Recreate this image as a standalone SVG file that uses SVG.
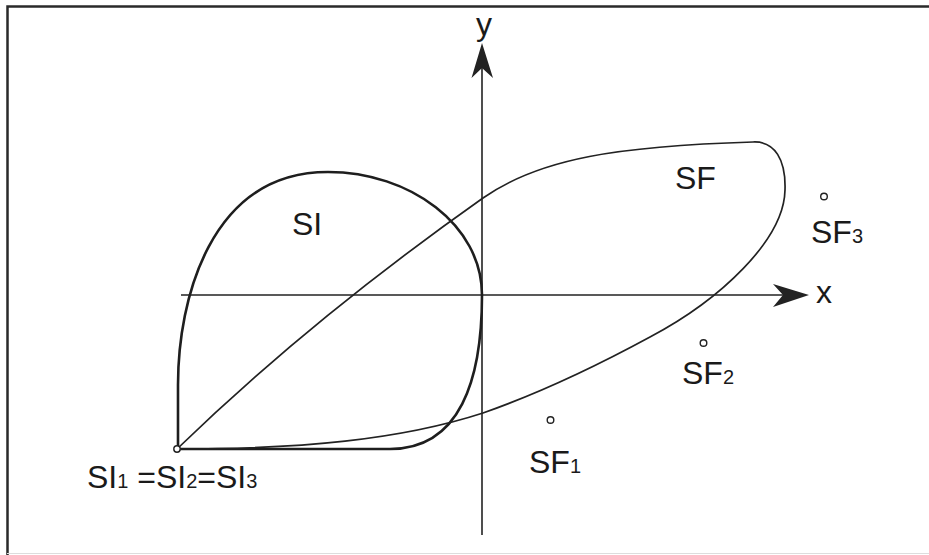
<svg xmlns="http://www.w3.org/2000/svg" width="929" height="555" viewBox="0 0 929 555">
<style>
.frame{stroke:#2a2a2a;stroke-width:2.5;fill:none}
.axis{stroke:#222;stroke-width:1.6;fill:none}
.si{stroke:#1e1e1e;stroke-width:2.6;fill:none;stroke-linejoin:round}
.sf{stroke:#222;stroke-width:1.7;fill:none;stroke-linejoin:round}
.pt{stroke:#222;stroke-width:1.4;fill:#fff}
.head{fill:#222}
text{font-family:"Liberation Sans",Arial,Helvetica,sans-serif;font-size:32px;fill:#1a1a1a}
.sub{font-size:20px}
</style>
<rect width="929" height="555" fill="#fff"/>
<g id="frame">
<path class="frame" d="M7.5,555 V6.5 H929"/>
<path d="M7,553.5 H929" stroke="#ddd" stroke-width="1.2"/>
</g>
<g id="connectors">
<g id="x-axis">
<path class="axis" d="M181,295 H784"/>
<path class="head" d="M809,295 L773,284 L783,295 L773,307 Z"/>
</g>
<g id="y-axis">
<path class="axis" d="M482,535 V66"/>
<path class="head" d="M482,43 L471.5,78 L482,68 L493,78 Z"/>
</g>
</g>
<g id="SI">
<path class="si" d="M178,449 L178,385 C178,300 210,172 328,172 C410,172 482,225 482,295 C482,380 460,449 390,449 Z"/>
<text x="292" y="235">SI</text>
</g>
<g id="SF">
<path class="sf" d="M177,449 Q310,320 483,198 C540,158 620,146 753,142 C775,141 786,160 785,190 C784,240 720,300 650,337 C580,375 520,400 483,413 C400,440 300,449 177,449 Z"/>
<text x="675" y="189">SF</text>
</g>
<g id="SI123">
<circle class="pt" cx="177" cy="449" r="3.2"/>
<text x="87" y="488">SI<tspan class="sub">1</tspan> =SI<tspan class="sub">2</tspan>=SI<tspan class="sub">3</tspan></text>
</g>
<g id="SF1">
<circle class="pt" cx="550.5" cy="420" r="3.3"/>
<text x="529" y="473">SF<tspan class="sub">1</tspan></text>
</g>
<g id="SF2">
<circle class="pt" cx="703.5" cy="343" r="3.3"/>
<text x="682" y="384">SF<tspan class="sub">2</tspan></text>
</g>
<g id="SF3">
<circle class="pt" cx="824" cy="196.5" r="3.3"/>
<text x="811" y="243">SF<tspan class="sub">3</tspan></text>
</g>
<g id="labels">
<text x="816" y="303">x</text>
<text x="476" y="35">y</text>
</g>
</svg>
